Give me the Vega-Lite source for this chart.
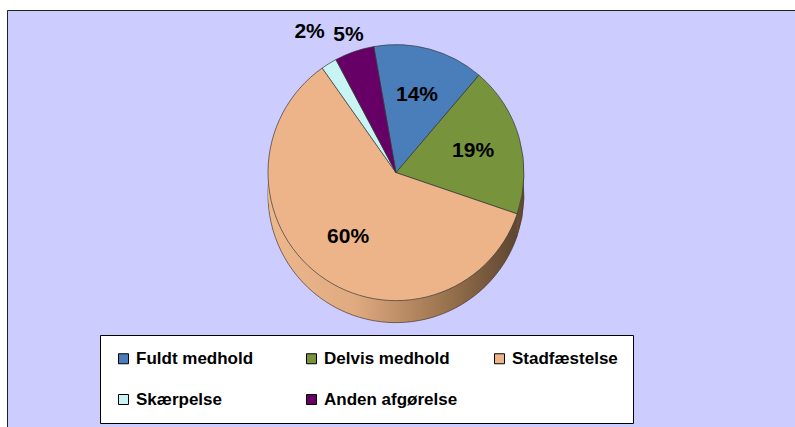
{
  "$schema": "https://vega.github.io/schema/vega-lite/v6.json",
  "width": 795,
  "height": 427,
  "autosize": {"type": "fit", "contains": "padding"},
  "padding": {"left": 7, "top": 10, "right": 0, "bottom": 0},
  "background": "white",
  "view": {"fill": "#CCCCFF", "stroke": "#222222", "strokeWidth": 1, "strokeDash": [788, 1205, 420]},
  "config": {
    "font": "Liberation Sans"
  },
  "data": {
    "values": [
      {"cat": "Fuldt medhold", "pct": 0.14, "n": 1},
      {"cat": "Delvis medhold", "pct": 0.19, "n": 2},
      {"cat": "Stadfæstelse", "pct": 0.60, "n": 3},
      {"cat": "Skærpelse", "pct": 0.02, "n": 4},
      {"cat": "Anden afgørelse", "pct": 0.05, "n": 5}
    ]
  },
  "encoding": {
    "theta": {"field": "pct", "type": "quantitative", "stack": true, "scale": {"range": [-0.1745, 6.1087]}},
    "order": {"field": "n", "type": "quantitative"}
  },
  "layer": [
    {
      "mark": {"type": "arc", "radius": 128, "x": {"expr": "width/2-5"}, "y": {"expr": "height*0.39"}, "yOffset": 22,
        "fill": {"gradient": "linear", "x1": 0, "y1": 0, "x2": 1, "y2": 0, "stops": [{"offset": 0, "color": "#EDB88E"}, {"offset": 0.35, "color": "#E0AA80"}, {"offset": 0.7, "color": "#9C7550"}, {"offset": 1, "color": "#5E4530"}]},
        "stroke": "#4a3a2a", "strokeWidth": 0.7}
    },
    {
      "mark": {"type": "arc", "radius": 128, "x": {"expr": "width/2-5"}, "y": {"expr": "height*0.39"}, "yOffset": 17,
        "fill": {"gradient": "linear", "x1": 0, "y1": 0, "x2": 1, "y2": 0, "stops": [{"offset": 0, "color": "#EDB88E"}, {"offset": 0.35, "color": "#E0AA80"}, {"offset": 0.7, "color": "#9C7550"}, {"offset": 1, "color": "#5E4530"}]}}
    },
    {
      "mark": {"type": "arc", "radius": 128, "x": {"expr": "width/2-5"}, "y": {"expr": "height*0.39"}, "yOffset": 12,
        "fill": {"gradient": "linear", "x1": 0, "y1": 0, "x2": 1, "y2": 0, "stops": [{"offset": 0, "color": "#EDB88E"}, {"offset": 0.35, "color": "#E0AA80"}, {"offset": 0.7, "color": "#9C7550"}, {"offset": 1, "color": "#5E4530"}]}}
    },
    {
      "mark": {"type": "arc", "radius": 128, "x": {"expr": "width/2-5"}, "y": {"expr": "height*0.39"}, "yOffset": 7,
        "fill": {"gradient": "linear", "x1": 0, "y1": 0, "x2": 1, "y2": 0, "stops": [{"offset": 0, "color": "#EDB88E"}, {"offset": 0.35, "color": "#E0AA80"}, {"offset": 0.7, "color": "#9C7550"}, {"offset": 1, "color": "#5E4530"}]}}
    },
    {
      "mark": {"type": "arc", "radius": 128, "x": {"expr": "width/2-5"}, "y": {"expr": "height*0.39"}, "yOffset": 3,
        "fill": {"gradient": "linear", "x1": 0, "y1": 0, "x2": 1, "y2": 0, "stops": [{"offset": 0, "color": "#EDB88E"}, {"offset": 0.35, "color": "#E0AA80"}, {"offset": 0.7, "color": "#9C7550"}, {"offset": 1, "color": "#5E4530"}]}}
    },
    {
      "mark": {"type": "arc", "radius": 128, "x": {"expr": "width/2-5"}, "y": {"expr": "height*0.39"}, "stroke": "#3a3a3a", "strokeWidth": 0.7, "opacity": 1},
      "encoding": {
        "color": {
          "field": "cat", "type": "nominal",
          "scale": {
            "domain": ["Fuldt medhold", "Delvis medhold", "Stadfæstelse", "Skærpelse", "Anden afgørelse"],
            "range": ["#4A7EBB", "#77933C", "#EDB48A", "#C8F4F4", "#660066"]
          },
          "legend": {
            "title": null, "orient": "none", "legendX": 93, "legendY": 325,
            "direction": "horizontal", "columns": 3, "gridAlign": "all",
            "columnPadding": 33, "rowPadding": 23,
            "fillColor": "white", "strokeColor": "black", "padding": 15, "cornerRadius": 0,
            "symbolType": "square", "symbolSize": 100, "symbolStrokeColor": "#000000", "symbolStrokeWidth": 1, "symbolOpacity": 1,
            "labelFont": "Liberation Sans", "labelFontSize": 17, "labelFontWeight": "bold", "labelColor": "#000000", "labelLimit": 300
          }
        }
      }
    },
    {
      "mark": {"type": "text", "radius": {"expr": "datum.pct < 0.03 ? 165 : datum.pct < 0.1 ? 146 : 80"}, "x": {"expr": "width/2-5"}, "y": {"expr": "height*0.39"},
        "font": "Liberation Sans", "fontSize": 21, "fontWeight": "bold", "color": "#000000"},
      "encoding": {"text": {"field": "pct", "type": "quantitative", "format": ".0%"}}
    }
  ]
}
